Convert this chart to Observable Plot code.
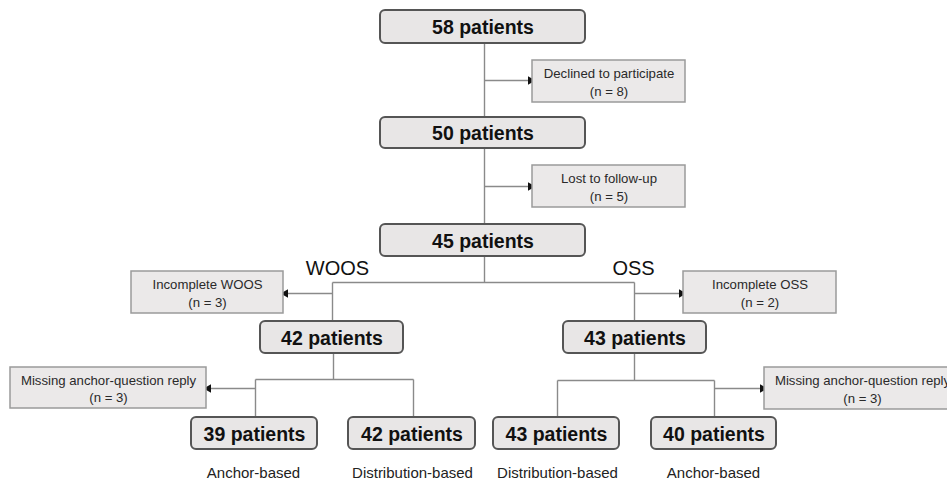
<!DOCTYPE html>
<html>
<head>
<meta charset="utf-8">
<script src="https://cdn.jsdelivr.net/npm/d3@7"></script>
<script src="https://cdn.jsdelivr.net/npm/@observablehq/plot@0.6"></script>
<style>
  html, body { margin: 0; padding: 0; background: #fff; }
  #chart { width: 947px; height: 481px; overflow: hidden; }
</style>
</head>
<body>
<div id="chart"></div>
<script>
// ---- Data: labels and counts ----
const patientCounts = [58, 50, 45, 42, 43, 39, 42, 43, 40];
const exclusionLabels = ["Declined to participate", "Lost to follow-up", "Incomplete WOOS", "Incomplete OSS", "Missing anchor-question reply", "Missing anchor-question reply"];
const exclusionCounts = [8, 5, 3, 2, 3, 3];
const branchLabels = ["WOOS", "OSS"];
const methodLabels = ["Anchor-based", "Distribution-based", "Distribution-based", "Anchor-based"];

// ---- Layout (pixel positions of the diagram) ----
const patientBoxPos = [
  [380, 585, 10, 43], [380, 585, 117, 148], [380, 585, 224, 256],
  [260, 403, 321, 353], [563, 706, 321, 353],
  [191, 317, 417, 449], [348, 475, 417, 449],
  [493, 619, 417, 449], [651, 776, 417, 449]
];
const exclusionBoxPos = [
  [532, 685, 60, 102], [532, 685, 165, 207],
  [131, 283, 271, 313], [683, 836, 271, 313],
  [10, 206, 367, 408], [764, 960, 367, 409]
];
const branchPos = [[337, 268], [633, 268]];
const methodPos = [[253, 473], [412, 473], [557, 473], [713, 473]];
const connectors = [
  [484, 43, 484, 117], [484, 148, 484, 224], [484, 256, 484, 282],
  [332, 282, 634, 282], [332, 282, 332, 321], [634, 282, 634, 321],
  [333, 353, 333, 379], [255, 379, 413, 379], [255, 379, 255, 417], [413, 379, 413, 417],
  [634, 353, 634, 380], [557, 380, 714, 380], [557, 380, 557, 417], [714, 380, 714, 417]
];
const arrows = [
  [484, 80, 530, 80], [484, 186, 530, 186],
  [332, 293, 285, 293], [634, 293, 681, 293],
  [255, 388, 208, 388], [714, 388, 762, 388]
];

// ---- Build tables ----
const patientBoxes = patientCounts.map((n, i) => ({
  label: `${n} patients`,
  x1: patientBoxPos[i][0], x2: patientBoxPos[i][1], y1: patientBoxPos[i][2], y2: patientBoxPos[i][3]
}));
const exclusionBoxes = exclusionLabels.map((t, i) => ({
  label: `${t}\n(n = ${exclusionCounts[i]})`,
  x1: exclusionBoxPos[i][0], x2: exclusionBoxPos[i][1], y1: exclusionBoxPos[i][2], y2: exclusionBoxPos[i][3]
}));
const branches = branchLabels.map((t, i) => ({label: t, x: branchPos[i][0], y: branchPos[i][1]}));
const methods = methodLabels.map((t, i) => ({label: t, x: methodPos[i][0], y: methodPos[i][1]}));
const lines = connectors.map(([x1, y1, x2, y2]) => ({x1, y1, x2, y2}));
const arrowLines = arrows.map(([x1, y1, x2, y2]) => ({x1, y1, x2, y2, dir: x2 > x1 ? 90 : -90}));

const font = "Liberation Sans, Arial, Helvetica, sans-serif";

const chart = Plot.plot({
  width: 947,
  height: 481,
  margin: 0,
  x: {domain: [0, 947], range: [0, 947], axis: null},
  y: {domain: [0, 481], range: [0, 481], axis: null},
  style: {fontFamily: font, background: "#fff"},
  marks: [
    Plot.link(lines, {x1: "x1", y1: "y1", x2: "x2", y2: "y2", stroke: "#8a8a8a", strokeWidth: 1.4}),
    Plot.link(arrowLines, {x1: "x1", y1: "y1", x2: "x2", y2: "y2", stroke: "#8a8a8a", strokeWidth: 1.4}),
    Plot.dot(arrowLines, {x: "x2", y: "y2", symbol: "triangle", r: 3.2, fill: "#111", stroke: "none", rotate: "dir"}),
    Plot.rect(exclusionBoxes, {x1: "x1", x2: "x2", y1: "y1", y2: "y2", fill: "#ebe9e9", stroke: "#9a9a9a", strokeWidth: 1.5}),
    Plot.text(exclusionBoxes, {x: d => (d.x1 + d.x2) / 2, y: d => (d.y1 + d.y2) / 2, text: "label", fontSize: 13.2, lineHeight: 1.3, fill: "#2a2a2a", fontFamily: font}),
    Plot.rect(patientBoxes, {x1: "x1", x2: "x2", y1: "y1", y2: "y2", fill: "#e8e6e6", stroke: "#555", strokeWidth: 2, rx: 5}),
    Plot.text(patientBoxes, {x: d => (d.x1 + d.x2) / 2, y: d => (d.y1 + d.y2) / 2 + 1, text: "label", fontSize: 19.5, fontWeight: "bold", fill: "#111", fontFamily: font}),
    Plot.text(branches, {x: "x", y: "y", text: "label", fontSize: 20, fill: "#111", fontFamily: font}),
    Plot.text(methods, {x: "x", y: "y", text: "label", fontSize: 15, fill: "#222", fontFamily: font})
  ]
});
document.getElementById("chart").appendChild(chart);
</script>
</body>
</html>
